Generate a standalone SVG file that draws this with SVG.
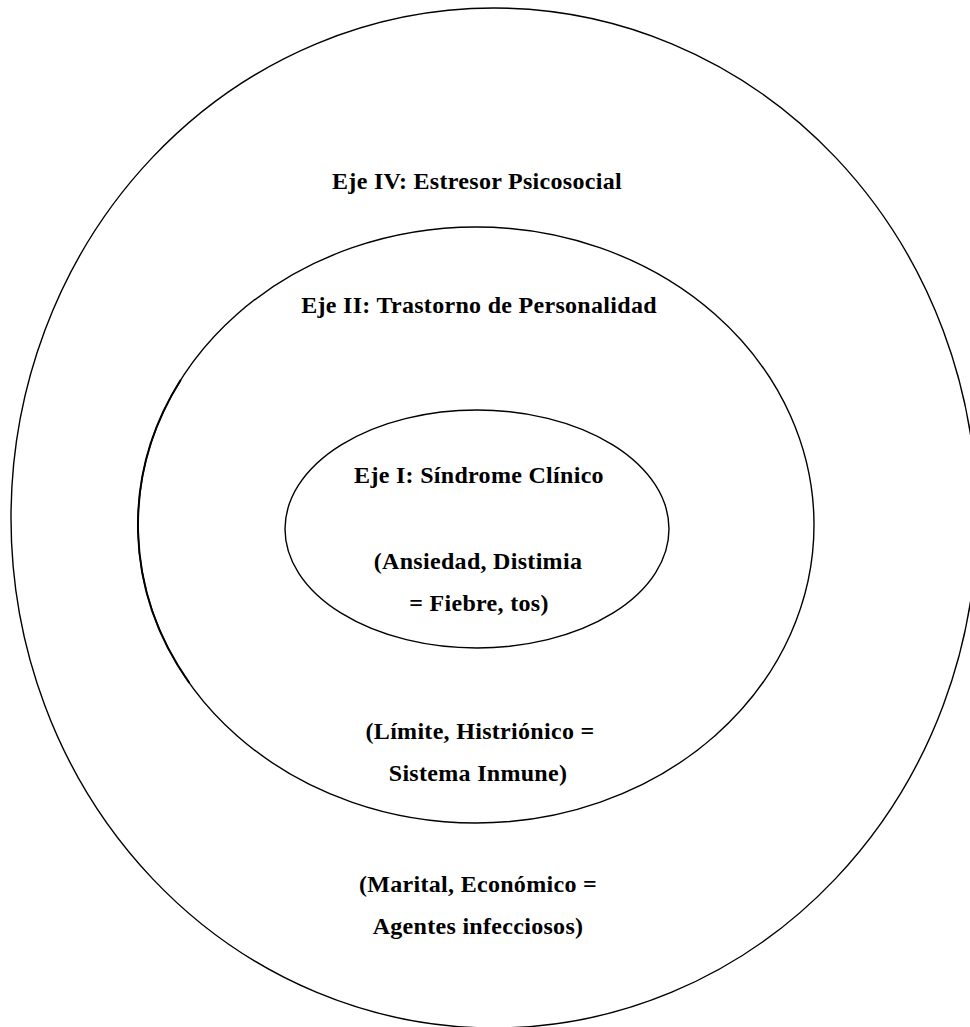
<svg xmlns="http://www.w3.org/2000/svg" width="970" height="1027" viewBox="0 0 970 1027">
<style>
.ring{fill:none;stroke:#000;stroke-width:1.4}
.t{font-family:"Liberation Serif","Times New Roman",serif;font-weight:bold;font-size:24px;letter-spacing:0.3px;fill:#000;text-anchor:middle}
</style>
<rect width="970" height="1027" fill="#fff"/>
<g id="eje4">
<ellipse class="ring" cx="494" cy="518" rx="483" ry="510"/>
<text class="t" x="477" y="189">Eje IV: Estresor Psicosocial</text>
<text class="t" x="478" y="892">(Marital, Económico =</text>
<text class="t" x="478" y="934">Agentes infecciosos)</text>
</g>
<g id="eje2">
<ellipse class="ring" cx="476" cy="525" rx="338" ry="298"/>
<path d="M 180.7 380 A 338 298 0 0 0 189.4 683" fill="none" stroke="#000" stroke-width="2"/>
<text class="t" x="479" y="313">Eje II: Trastorno de Personalidad</text>
<text class="t" x="480" y="739">(Límite, Histriónico =</text>
<text class="t" x="478" y="781">Sistema Inmune)</text>
</g>
<g id="eje1">
<ellipse class="ring" cx="477" cy="529" rx="192" ry="119"/>
<text class="t" x="479" y="483">Eje I: Síndrome Clínico</text>
<text class="t" x="478" y="569">(Ansiedad, Distimia</text>
<text class="t" x="479" y="611">= Fiebre, tos)</text>
</g>
<g id="connectors"/>
</svg>
